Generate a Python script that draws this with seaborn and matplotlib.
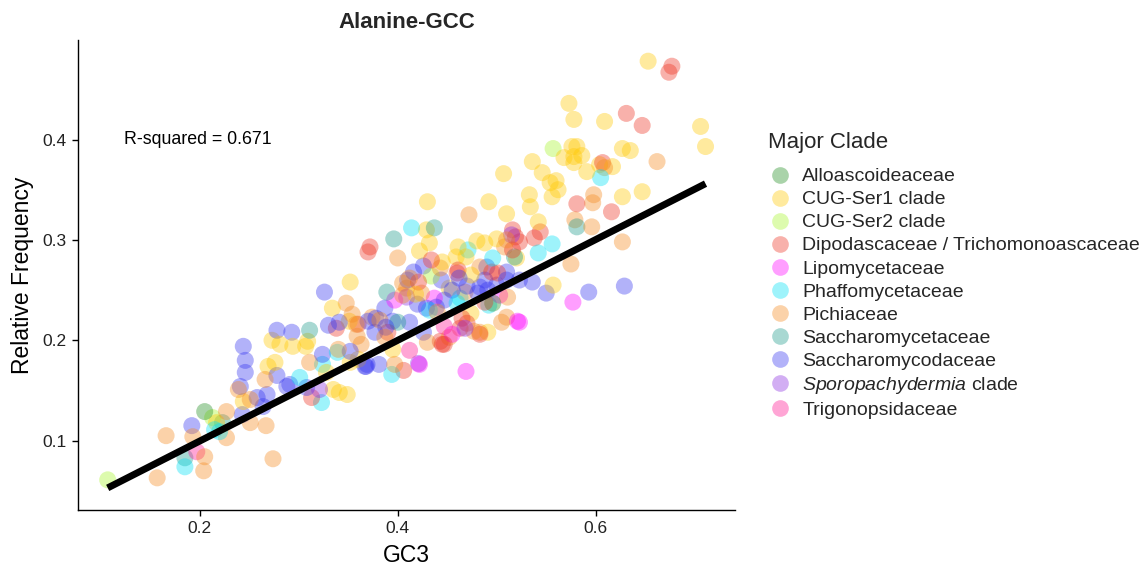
import matplotlib
matplotlib.use("Agg")
import matplotlib.pyplot as plt
from matplotlib.lines import Line2D
import seaborn as sns
import pandas as pd
import numpy as np

# ---------------- data (GC3, relative frequency) per clade ----------------
alloasco_gc3 = [0.205, 0.496]
alloasco_freq = [0.129, 0.237]

cugser1_gc3 = [0.653, 0.573, 0.578, 0.609, 0.706, 0.711, 0.576, 0.581, 0.586, 0.568,
               0.578, 0.578, 0.627, 0.635, 0.604, 0.617, 0.536, 0.546, 0.591, 0.507,
               0.554, 0.560, 0.562, 0.556, 0.533, 0.534, 0.492, 0.510, 0.627, 0.647,
               0.542, 0.557, 0.491, 0.352, 0.334, 0.351, 0.273, 0.281, 0.294, 0.309,
               0.307, 0.269, 0.276, 0.244, 0.328, 0.335, 0.341, 0.349, 0.360, 0.217,
               0.430, 0.429, 0.432, 0.422, 0.480, 0.488, 0.461, 0.469, 0.500, 0.459,
               0.474, 0.474, 0.395, 0.352, 0.445, 0.452, 0.520, 0.418]
cugser1_freq = [0.478, 0.436, 0.420, 0.418, 0.413, 0.393, 0.393, 0.393, 0.384, 0.382,
                0.377, 0.383, 0.391, 0.389, 0.375, 0.373, 0.378, 0.367, 0.368, 0.366,
                0.357, 0.359, 0.350, 0.343, 0.345, 0.333, 0.338, 0.326, 0.343, 0.348,
                0.318, 0.255, 0.208, 0.258, 0.232, 0.219, 0.200, 0.196, 0.194, 0.199,
                0.194, 0.174, 0.178, 0.139, 0.168, 0.151, 0.148, 0.146, 0.181, 0.118,
                0.338, 0.310, 0.297, 0.289, 0.299, 0.297, 0.293, 0.283, 0.301, 0.283,
                0.265, 0.227, 0.191, 0.178, 0.278, 0.252, 0.282, 0.246]

cugser2_gc3 = [0.107, 0.557, 0.434, 0.213]
cugser2_freq = [0.061, 0.391, 0.264, 0.123]

dipod_gc3 = [0.677, 0.674, 0.631, 0.647, 0.607, 0.581, 0.616, 0.538, 0.544, 0.516,
             0.372, 0.370, 0.338, 0.313, 0.519, 0.523, 0.516, 0.460, 0.461, 0.434,
             0.495, 0.501, 0.465, 0.470, 0.463, 0.445, 0.483, 0.360, 0.390, 0.406,
             0.447, 0.443, 0.421, 0.488]
dipod_freq = [0.473, 0.467, 0.426, 0.414, 0.377, 0.336, 0.328, 0.302, 0.308, 0.310,
              0.293, 0.288, 0.212, 0.143, 0.303, 0.298, 0.290, 0.267, 0.270, 0.280,
              0.268, 0.267, 0.222, 0.217, 0.212, 0.196, 0.206, 0.216, 0.208, 0.170,
              0.196, 0.199, 0.258, 0.238]

lipo_gc3 = [0.577, 0.521, 0.523, 0.469, 0.422, 0.397, 0.503, 0.437, 0.455]
lipo_freq = [0.238, 0.219, 0.218, 0.169, 0.176, 0.240, 0.245, 0.242, 0.206]

phaffo_gc3 = [0.605, 0.556, 0.542, 0.301, 0.324, 0.323, 0.339, 0.220, 0.215, 0.185,
              0.414, 0.471, 0.496, 0.463, 0.460, 0.432, 0.394, 0.492]
phaffo_freq = [0.362, 0.296, 0.287, 0.163, 0.176, 0.138, 0.188, 0.109, 0.111, 0.074,
               0.312, 0.290, 0.282, 0.242, 0.237, 0.230, 0.166, 0.235]

pichia_gc3 = [0.609, 0.662, 0.472, 0.598, 0.597, 0.579, 0.596, 0.510, 0.627, 0.575,
              0.510, 0.348, 0.354, 0.358, 0.266, 0.239, 0.251, 0.251, 0.267, 0.274,
              0.311, 0.227, 0.193, 0.227, 0.205, 0.204, 0.157, 0.166, 0.400, 0.374,
              0.359, 0.387, 0.340, 0.363, 0.397, 0.508, 0.443, 0.412, 0.405, 0.424,
              0.409, 0.405, 0.483, 0.511, 0.477, 0.483, 0.430, 0.452, 0.382, 0.505,
              0.440, 0.468]
pichia_freq = [0.372, 0.378, 0.325, 0.345, 0.337, 0.320, 0.313, 0.300, 0.298, 0.276,
               0.223, 0.237, 0.226, 0.216, 0.161, 0.151, 0.141, 0.118, 0.115, 0.082,
               0.178, 0.129, 0.104, 0.103, 0.084, 0.070, 0.063, 0.105, 0.282, 0.223,
               0.204, 0.203, 0.191, 0.196, 0.176, 0.293, 0.272, 0.262, 0.257, 0.247,
               0.252, 0.245, 0.273, 0.243, 0.209, 0.208, 0.198, 0.203, 0.220, 0.218,
               0.228, 0.248]

saccharomyceta_gc3 = [0.581, 0.311, 0.223, 0.185, 0.396, 0.389, 0.437, 0.518, 0.400]
saccharomyceta_freq = [0.313, 0.210, 0.118, 0.083, 0.301, 0.248, 0.312, 0.283, 0.218]

saccharomycoda_gc3 = [0.536, 0.550, 0.593, 0.629, 0.326, 0.330, 0.341, 0.278, 0.293, 0.244,
                      0.246, 0.246, 0.278, 0.241, 0.258, 0.268, 0.264, 0.243, 0.288, 0.291,
                      0.308, 0.324, 0.352, 0.367, 0.192, 0.387, 0.378, 0.377, 0.388, 0.368,
                      0.381, 0.426, 0.416, 0.410, 0.444, 0.470, 0.483, 0.488, 0.490, 0.510,
                      0.523, 0.481, 0.491, 0.447, 0.429, 0.439, 0.370, 0.395, 0.412, 0.426,
                      0.369, 0.510, 0.455, 0.462, 0.500, 0.420]
saccharomycoda_freq = [0.258, 0.247, 0.248, 0.254, 0.248, 0.215, 0.218, 0.210, 0.208, 0.194,
                       0.180, 0.168, 0.165, 0.154, 0.143, 0.146, 0.134, 0.126, 0.154, 0.156,
                       0.153, 0.186, 0.189, 0.174, 0.115, 0.232, 0.222, 0.208, 0.213, 0.174,
                       0.176, 0.274, 0.268, 0.260, 0.260, 0.254, 0.253, 0.260, 0.273, 0.268,
                       0.260, 0.247, 0.250, 0.240, 0.232, 0.233, 0.219, 0.219, 0.218, 0.208,
                       0.176, 0.260, 0.250, 0.262, 0.255, 0.236]

sporo_gc3 = [0.515, 0.321, 0.421, 0.409, 0.468]
sporo_freq = [0.305, 0.151, 0.177, 0.243, 0.212]

trigono_gc3 = [0.197, 0.412, 0.447]
trigono_freq = [0.089, 0.190, 0.214]

# fitted model line shown in the chart (slope, intercept) and its annotation
fit_slope = 0.5017
fit_intercept = -0.0007
r2_text = "R-squared = 0.671"

clade_names = ["Alloascoideaceae", "CUG-Ser1 clade", "CUG-Ser2 clade",
               "Dipodascaceae / Trichomonoascaceae", "Lipomycetaceae",
               "Phaffomycetaceae", "Pichiaceae", "Saccharomycetaceae",
               "Saccharomycodaceae", "Sporopachydermia clade", "Trigonopsidaceae"]
legend_labels = ["Alloascoideaceae", "CUG-Ser1 clade", "CUG-Ser2 clade",
                 "Dipodascaceae / Trichomonoascaceae", "Lipomycetaceae",
                 "Phaffomycetaceae", "Pichiaceae", "Saccharomycetaceae",
                 "Saccharomycodaceae", r"$\mathit{Sporopachydermia}$ clade",
                 "Trigonopsidaceae"]
clade_colors = ["#1E8C1E", "#FFC800", "#A8F52A", "#EE3322", "#FF00FF",
                "#00E0F5", "#F58A1F", "#1A9A8A", "#3535F0", "#8A2BE2", "#FF1493"]

# ---------------- build table ----------------
xs = [alloasco_gc3, cugser1_gc3, cugser2_gc3, dipod_gc3, lipo_gc3, phaffo_gc3,
      pichia_gc3, saccharomyceta_gc3, saccharomycoda_gc3, sporo_gc3, trigono_gc3]
ys = [alloasco_freq, cugser1_freq, cugser2_freq, dipod_freq, lipo_freq, phaffo_freq,
      pichia_freq, saccharomyceta_freq, saccharomycoda_freq, sporo_freq, trigono_freq]
rows = []
for name, gx, fy in zip(clade_names, xs, ys):
    for a, b in zip(gx, fy):
        rows.append({"GC3": a, "Freq": b, "Clade": name})
df = pd.DataFrame(rows)
df = df.sample(frac=1.0, random_state=3).reset_index(drop=True)

line_x = np.array([df["GC3"].min(), df["GC3"].max()])
line_df = pd.DataFrame({"GC3": line_x, "Freq": fit_intercept + fit_slope * line_x})

# ---------------- plot ----------------
sns.set_theme(style="ticks")
plt.rcParams["font.family"] = ["Liberation Sans", "DejaVu Sans"]
plt.rcParams["mathtext.fontset"] = "custom"
plt.rcParams["mathtext.it"] = "Liberation Sans:italic"
plt.rcParams["mathtext.rm"] = "Liberation Sans"

fig = plt.figure(figsize=(11.47, 5.73), dpi=100)
ax = fig.add_axes([0.068, 0.110, 0.573, 0.820])

palette = dict(zip(clade_names, clade_colors))
sns.scatterplot(data=df, x="GC3", y="Freq", hue="Clade", palette=palette,
                hue_order=clade_names, s=150, alpha=0.38, linewidth=0,
                edgecolor="none", legend=False, ax=ax)
sns.lineplot(data=line_df, x="GC3", y="Freq", color="black", linewidth=5,
             ax=ax, solid_capstyle="butt")

ax.set_xlim(0.077, 0.741)
ax.set_ylim(0.031, 0.499)
ax.set_xticks([0.2, 0.4, 0.6])
ax.set_yticks([0.1, 0.2, 0.3, 0.4])
ax.set_xticklabels(["0.2", "0.4", "0.6"])
ax.set_yticklabels(["0.1", "0.2", "0.3", "0.4"])
ax.tick_params(axis="both", labelsize=12.5, length=4, width=1, color="black",
               labelcolor="#222222", direction="out", pad=4)
for sp in ["left", "bottom"]:
    ax.spines[sp].set_color("black")
    ax.spines[sp].set_linewidth(1.0)
sns.despine(ax=ax)

ax.set_xlabel("GC3", fontsize=16.5, color="black", labelpad=6)
ax.set_ylabel("Relative Frequency", fontsize=16.5, color="black", labelpad=6)
ax.set_title("Alanine-GCC", fontsize=16, fontweight="bold", pad=9)

ax.text(0.198, 0.400, r2_text, ha="center", va="center", fontsize=12.8, color="black")

handles = [Line2D([0], [0], marker="o", linestyle="none", markersize=12,
                  markerfacecolor=c, markeredgewidth=0, alpha=0.38)
           for c in clade_colors]
leg = fig.legend(handles, legend_labels, title="Major Clade", loc="upper left",
                 bbox_to_anchor=(0.663, 0.783), frameon=False, fontsize=14,
                 title_fontsize=16, labelspacing=0.28, handletextpad=0.55,
                 handlelength=1.2, borderaxespad=0, borderpad=0.4)
leg._legend_box.align = "left"
leg._legend_box.sep = 10.5

fig.savefig("out.png", dpi=100)
